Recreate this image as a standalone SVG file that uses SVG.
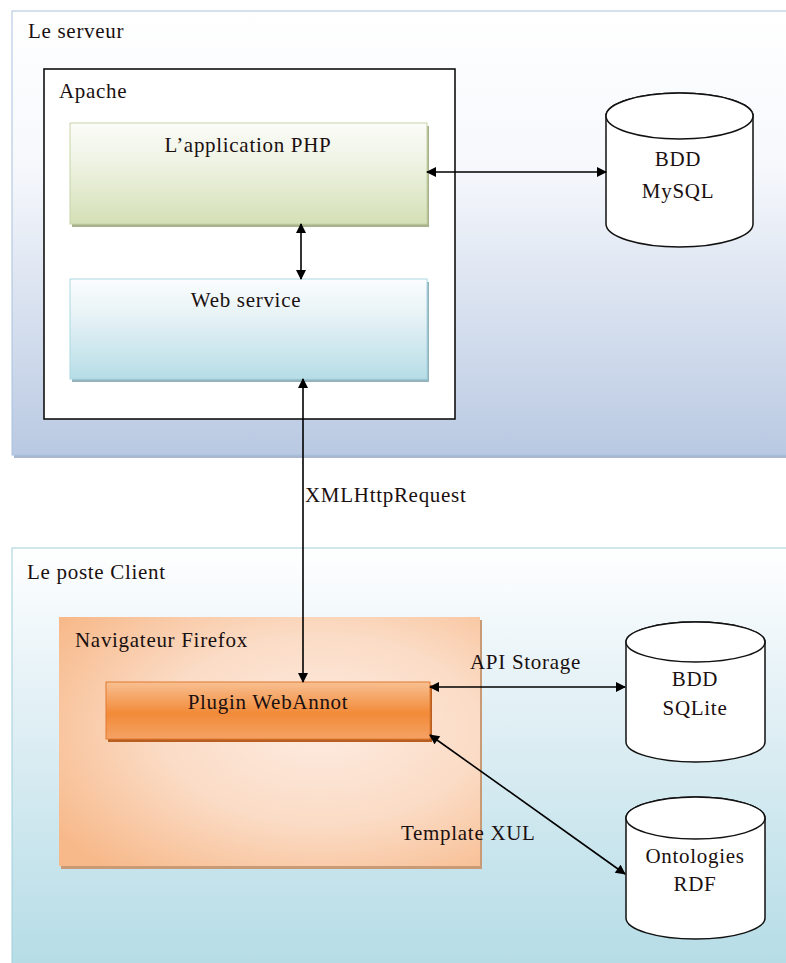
<svg xmlns="http://www.w3.org/2000/svg" width="786" height="963" viewBox="0 0 786 963">
<style>
text{font-family:"Liberation Serif","DejaVu Serif",serif;font-size:21px;letter-spacing:0.7px;fill:#1a1010}
.c{text-anchor:middle}
.cyl{fill:#fff;stroke:#111;stroke-width:1.5}
.ln{stroke:#000;stroke-width:1.6;fill:none;marker-start:url(#ah);marker-end:url(#ah)}
</style>
<defs>
<marker id="ah" viewBox="0 0 10 10" refX="9" refY="5" markerWidth="11" markerHeight="10" orient="auto-start-reverse" markerUnits="userSpaceOnUse"><path d="M0,0 L10,5 L0,10 z" fill="#000"/></marker>
<linearGradient id="gServ" x1="0" y1="0" x2="0" y2="1"><stop offset="0" stop-color="#ffffff"/><stop offset="0.35" stop-color="#f6f8fc"/><stop offset="1" stop-color="#b9c9e2"/></linearGradient>
<linearGradient id="gCli" x1="0" y1="0" x2="0" y2="1"><stop offset="0" stop-color="#ffffff"/><stop offset="0.35" stop-color="#e4f1f6"/><stop offset="1" stop-color="#b5dce6"/></linearGradient>
<linearGradient id="gPhp" x1="0" y1="0" x2="0" y2="1"><stop offset="0" stop-color="#fbfcf8"/><stop offset="0.35" stop-color="#f0f4e6"/><stop offset="1" stop-color="#d4e0b6"/></linearGradient>
<linearGradient id="gWeb" x1="0" y1="0" x2="0" y2="1"><stop offset="0" stop-color="#fbfdfe"/><stop offset="0.35" stop-color="#e8f3f6"/><stop offset="1" stop-color="#b7dde7"/></linearGradient>
<radialGradient id="gFf" cx="0.62" cy="0.45" r="0.75"><stop offset="0" stop-color="#fdebe0"/><stop offset="0.5" stop-color="#fbdcc6"/><stop offset="1" stop-color="#f7b98a"/></radialGradient>
<linearGradient id="gPl" x1="0" y1="0" x2="0" y2="1"><stop offset="0" stop-color="#f8c092"/><stop offset="0.55" stop-color="#f28a38"/><stop offset="1" stop-color="#f5a265"/></linearGradient>
</defs>
<rect width="786" height="963" fill="#ffffff"/>
<g id="serveur">
<rect x="14" y="14" width="780" height="444" fill="#a9b8d0"/>
<rect x="12" y="11" width="780" height="444" fill="url(#gServ)" stroke="#a9c2de" stroke-width="1"/>
<text x="28" y="38">Le serveur</text>
</g>
<g id="apache">
<rect x="44" y="69" width="411" height="350" fill="#fff" stroke="#111" stroke-width="1.6"/>
<text x="59" y="98">Apache</text>
</g>
<g id="php">
<rect x="72" y="126" width="357" height="101" fill="#a8b38c"/>
<rect x="70" y="123" width="357" height="101" fill="url(#gPhp)" stroke="#c7d3a8" stroke-width="1"/>
<text class="c" x="248" y="152">L’application PHP</text>
</g>
<g id="webservice">
<rect x="72" y="282" width="357" height="100" fill="#93b3bd"/>
<rect x="70" y="279" width="357" height="100" fill="url(#gWeb)" stroke="#a9d7e2" stroke-width="1"/>
<text class="c" x="246" y="307">Web service</text>
</g>
<g id="mysql">
<path class="cyl" d="M606,116 L606,224 A73.5,23 0 0 0 753,224 L753,116 A73.5,23 0 0 0 606,116 Z"/>
<ellipse class="cyl" cx="679.5" cy="116" rx="73.5" ry="23"/>
<text class="c" x="678" y="166">BDD</text>
<text class="c" x="678" y="198">MySQL</text>
</g>
<g id="client">
<rect x="12" y="548" width="780" height="420" fill="url(#gCli)" stroke="#9fd0dc" stroke-width="1"/>
<text x="27" y="579">Le poste Client</text>
</g>
<g id="firefox">
<rect x="61" y="620" width="421" height="249" fill="#c99a76"/>
<rect x="59" y="617" width="421" height="249" fill="url(#gFf)"/>
<text x="75" y="647">Navigateur Firefox</text>
</g>
<g id="plugin">
<rect x="108" y="685" width="324" height="57" fill="#b85e20"/>
<rect x="106" y="682" width="324" height="57" fill="url(#gPl)" stroke="#e07a30" stroke-width="1"/>
<text class="c" x="268" y="709">Plugin WebAnnot</text>
</g>
<g id="sqlite">
<path class="cyl" d="M626,642 L626,742 A69.5,20 0 0 0 765,742 L765,642 A69.5,20 0 0 0 626,642 Z"/>
<ellipse class="cyl" cx="695.5" cy="642" rx="69.5" ry="20"/>
<text class="c" x="695" y="686">BDD</text>
<text class="c" x="695" y="715">SQLite</text>
</g>
<g id="ontologies">
<path class="cyl" d="M626,818 L626,918 A69.5,21 0 0 0 765,918 L765,818 A69.5,21 0 0 0 626,818 Z"/>
<ellipse class="cyl" cx="695.5" cy="818" rx="69.5" ry="21"/>
<text class="c" x="695" y="863">Ontologies</text>
<text class="c" x="695" y="891">RDF</text>
</g>
<g id="connectors">
<line class="ln" x1="427" y1="172" x2="606" y2="172"/>
<line class="ln" x1="301" y1="224" x2="301" y2="279"/>
<line class="ln" x1="303" y1="379" x2="303" y2="682"/>
<line class="ln" x1="430" y1="687" x2="625" y2="687"/>
<line class="ln" x1="430" y1="735" x2="625" y2="874"/>
<text x="305" y="502">XMLHttpRequest</text>
<text x="470" y="669">API Storage</text>
<text x="401" y="840">Template XUL</text>
</g>
</svg>
